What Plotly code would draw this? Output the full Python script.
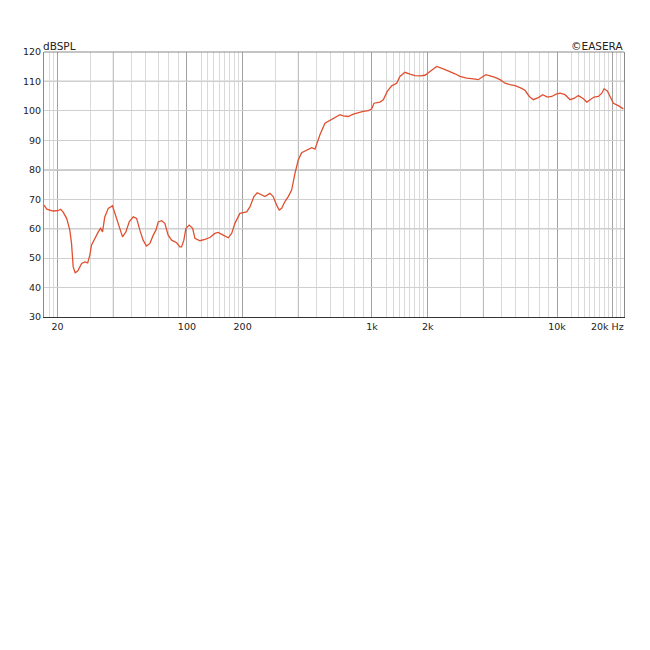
import plotly.graph_objects as go
import math

freq_hz = [16.9, 17.5, 18.9, 20.1, 20.8, 21.4, 22.4, 23.3, 23.8, 24.3, 24.9, 25.7, 27.0, 28.1, 29.1,
           29.9, 30.5, 31.8, 33.2, 34.2, 35.0, 36.0, 37.6, 39.6, 41.3, 43.1, 44.9, 46.8, 48.8, 51.3,
           53.5, 55.7, 58.0, 60.5, 63.1, 65.8, 68.0, 70.0, 73.0, 76.0, 79.2, 82.7, 88.0, 91.6, 93.6,
           96.3, 98.8, 102.9, 107.4, 110.5, 117.6, 125.1, 133.1, 141.7, 147.6, 157.1, 167.2, 174.5,
           181.7, 193.4, 210.3, 219.1, 230.1, 239.9, 253.4, 264.0, 280.9, 292.6, 305.3, 315.5, 325.0,
           338.6, 352.9, 368.1, 383.6, 399.6, 416.9, 443.6, 472.1, 491.9, 523.4, 557.0, 605.4, 644.3,
           671.5, 699.8, 744.6, 792.3, 843.0, 897.0, 955.0, 995.8, 1025, 1105, 1151, 1210, 1277, 1360,
           1416, 1507, 1604, 1707, 1817, 1934, 2058, 2237, 2429, 2640, 2810, 2990, 3250, 3530, 3757,
           3918, 4131, 4345, 4624, 4920, 5236, 5572, 5929, 6310, 6714, 7080, 7447, 7925, 8369, 8867,
           9357, 9880, 10380, 11050, 11760, 12410, 13030, 13870, 14480, 15080, 15850, 16720, 17450,
           17950, 18710, 19340, 20150, 21430, 22810]

spl_db = [68.0, 66.6, 66.0, 66.1, 66.6, 65.7, 63.5, 59.5, 55.0, 47.0, 45.0, 45.6, 48.2, 48.7, 48.4,
          51.0, 54.4, 56.7, 58.9, 60.1, 58.9, 64.0, 66.9, 67.8, 64.0, 60.1, 57.2, 58.9, 62.3, 64.0,
          63.5, 59.5, 56.1, 54.1, 55.0, 57.8, 59.5, 62.3, 62.7, 61.8, 57.8, 56.1, 55.2, 53.8, 53.8,
          56.1, 60.1, 61.2, 60.1, 56.7, 55.9, 56.4, 57.0, 58.4, 58.7, 57.8, 56.9, 58.4,
          61.8, 65.2, 65.7, 67.4, 70.9, 72.2, 71.4, 70.9, 72.0, 70.9, 68.0, 66.3, 66.9,
          69.2, 70.9, 73.1, 78.8, 83.3, 85.8, 86.7, 87.5, 87.0, 91.9, 95.8, 97.0, 98.1,
          98.7, 98.3, 98.1, 98.9, 99.4, 99.8, 100.1, 100.6, 102.6, 103.0, 103.8, 106.6, 108.5, 109.4,
          111.7, 113.1, 112.5, 112.0, 111.9, 112.1, 113.4, 115.1, 114.3, 113.4, 112.6, 111.7, 111.1, 110.9, 110.6,
          111.4, 112.3, 111.9, 111.4, 110.6, 109.4, 108.9, 108.6, 107.9, 107.0, 104.9, 103.8, 104.5, 105.5, 104.7,
          104.9, 105.7, 106.0, 105.5, 103.8, 104.3, 105.2, 104.1, 103.0, 103.8, 104.7, 104.9, 106.0,
          107.5, 106.8, 104.9, 102.6, 101.8, 100.7]

x_major = [20, 100, 200, 1000, 2000, 10000, 20000]
x_major_text = ["20", "100", "200", "1k", "2k", "10k", ""]
x_mid = [40, 400, 4000]
x_minor = [18, 19, 30, 50, 60, 70, 80, 90, 300, 500, 600, 700, 800, 900,
           3000, 5000, 6000, 7000, 8000, 9000]
x_minor2 = [120, 130, 140, 150, 160, 170, 180, 190,
            1200, 1300, 1400, 1500, 1600, 1700, 1800, 1900,
            12000, 13000, 14000, 15000, 16000, 17000, 18000, 19000, 21000, 22000]
y_ticks = [30, 40, 50, 60, 70, 80, 90, 100, 110, 120]
y_dark = [60, 80, 110]
x_range_hz = [16.9, 23000]

FONT = "DejaVu Sans"
fig = go.Figure()
fig.add_trace(go.Scatter(x=freq_hz, y=spl_db, mode="lines",
                         line=dict(color="#e0502f", width=1.3), hoverinfo="skip"))

shapes = []
for v in x_mid:
    shapes.append(dict(type="line", xref="x", yref="paper", x0=v, x1=v, y0=0, y1=1,
                       line=dict(color="#b4b4b4", width=1), layer="between"))
for v in y_dark:
    shapes.append(dict(type="line", xref="paper", yref="y", x0=0, x1=1, y0=v, y1=v,
                       line=dict(color="#9a9a9a", width=1.2), layer="between"))
shapes.append(dict(type="line", xref="paper", yref="paper", x0=0, x1=1, y0=1, y1=1,
                   line=dict(color="#8a8a8a", width=1)))

fig.update_layout(
    width=642, height=642,
    margin=dict(l=36, r=26, t=44, b=333),
    paper_bgcolor="white", plot_bgcolor="white",
    showlegend=False,
    font=dict(family=FONT, size=9, color="#222"),
    shapes=shapes,
    xaxis=dict(type="log", range=[math.log10(x_range_hz[0]), math.log10(x_range_hz[1])],
               tickmode="array", tickvals=x_major, ticktext=x_major_text,
               showgrid=True, gridcolor="#a2a2a2", gridwidth=1,
               minor=dict(tickmode="array", tickvals=x_minor + x_minor2,
                          showgrid=True, gridcolor="#dadada", gridwidth=1),
               showline=True, linecolor="#333", linewidth=1.2, mirror=False,
               ticks="", zeroline=False, tickfont=dict(family=FONT, size=9.5, color="#222")),
    yaxis=dict(range=[30, 120], tickmode="array", tickvals=y_ticks,
               showgrid=True, gridcolor="#cfcfcf", gridwidth=1,
               showline=True, linecolor="#8a8a8a", linewidth=1, mirror=True,
               ticks="", zeroline=False, tickfont=dict(family=FONT, size=9.5, color="#222")),
    annotations=[
        dict(text="dBSPL", xref="paper", yref="paper", x=0, y=1, xanchor="left", yanchor="bottom",
             xshift=-3, yshift=-2, showarrow=False, font=dict(family=FONT, size=10.5, color="#222")),
        dict(text="©EASERA", xref="paper", yref="paper", x=1, y=1, xanchor="right", yanchor="bottom",
             xshift=1, yshift=-2, showarrow=False, font=dict(family=FONT, size=10.5, color="#222")),
        dict(text="20k Hz", xref="paper", yref="paper", x=1, y=0, xanchor="right", yanchor="top",
             xshift=2, yshift=-2, showarrow=False, font=dict(family=FONT, size=9.5, color="#222")),
    ],
)

fig.write_html("out.html")
